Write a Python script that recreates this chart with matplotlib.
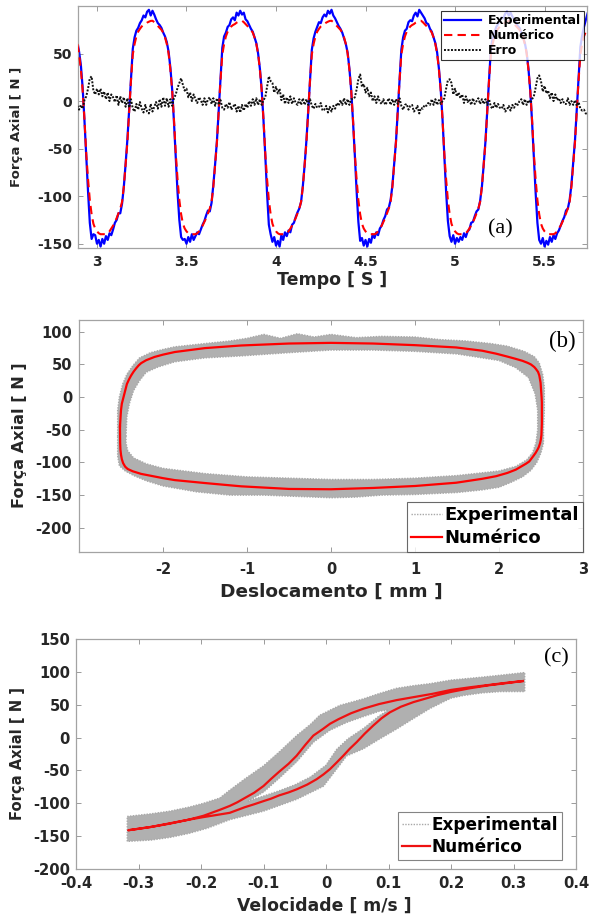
import numpy as np
import matplotlib
matplotlib.use("Agg")
import matplotlib.pyplot as plt

plt.rcParams["font.family"] = ["DejaVu Sans"]
plt.rcParams["font.weight"] = "bold"
plt.rcParams["axes.labelweight"] = "bold"
plt.rcParams["axes.unicode_minus"] = False

# ---------------- Panel (a): time series (sampled every 0.01 s from 2.89 s) ----------------
t_inicio = 2.89
t_passo = 0.01

numerico_a = [
    60, 50, 33, 11,
    -19, -55, -82, -104, -119, -129, -134, -137, -139, -140, -140, -140, -140, -139, -137, -134, -131, -127, -123, -118,
    -113, -106, -90, -67, -43, -10, 22, 49, 60, 68, 73, 76, 78.5, 80, 81, 82.5, 83.5, 84.3, 84.5, 83, 81, 79, 77, 75, 72, 67, 60, 50, 33, 11,
    -19, -55, -82, -104, -119, -129, -134, -137, -139, -140, -140, -140, -140, -139, -137, -134, -131, -127, -123, -118,
    -113, -106, -90, -67, -43, -10, 22, 49, 60, 68, 73, 76, 78.5, 80, 81, 82.5, 83.5, 84.3, 84.5, 83, 81, 79, 77, 75, 72, 67, 60, 50, 33, 11,
    -19, -55, -82, -104, -119, -129, -134, -137, -139, -140, -140, -140, -140, -139, -137, -134, -131, -127, -123, -118,
    -113, -106, -90, -67, -43, -10, 22, 49, 60, 68, 73, 76, 78.5, 80, 81, 82.5, 83.5, 84.3, 84.5, 83, 81, 79, 77, 75, 72, 67, 60, 50, 33, 11,
    -19, -55, -82, -104, -119, -129, -134, -137, -139, -140, -140, -140, -140, -139, -137, -134, -131, -127, -123, -118,
    -113, -106, -90, -67, -43, -10, 22, 49, 60, 68, 73, 76, 78.5, 80, 81, 82.5, 83.5, 84.3, 84.5, 83, 81, 79, 77, 75, 72, 67, 60, 50, 33, 11,
    -19, -55, -82, -104, -119, -129, -134, -137, -139, -140, -140, -140, -140, -139, -137, -134, -131, -127, -123, -118,
    -113, -106, -90, -67, -43, -10, 22, 49, 60, 68, 73, 76, 78.5, 80, 81, 82.5, 83.5, 84.3, 84.5, 83, 81, 79, 77, 75, 72, 67, 60, 50, 33, 11,
    -19, -55, -82, -104, -119, -129, -134, -137, -139, -140, -140, -140, -140, -139, -137, -134, -131, -127, -123, -118,
    -113, -106, -90, -67, -43, -10, 22, 49, 60, 68, 73, 76,
]

experimental_a = [
    63, 52, 38, 14,
    -20, -58, -95, -128, -145, -140, -141, -150, -146, -153, -145, -150, -142, -146, -139, -141, -135, -128, -125, -118,
    -118, -108, -90, -66, -40, -8, 25, 55, 67, 74, 77, 82, 85, 90, 88, 94, 96, 90, 95, 91, 86, 82, 80, 77, 72, 68, 62, 52, 35, 12,
    -22, -60, -96, -125, -143, -146, -145, -150, -143, -148, -140, -146, -142, -138, -140, -135, -130, -126, -120, -115,
    -116, -107, -88, -66, -42, -9, 24, 56, 68, 72, 78, 80, 86, 88, 85, 93, 90, 95, 91, 93, 86, 84, 80, 76, 73, 67, 61, 50, 34, 12,
    -20, -57, -97, -130, -140, -148, -143, -152, -147, -153, -141, -146, -138, -142, -136, -138, -130, -128, -122, -117,
    -113, -106, -89, -67, -41, -10, 23, 54, 66, 73, 78, 83, 82, 88, 91, 89, 95, 92, 96, 90, 87, 83, 79, 76, 72, 66, 60, 51, 34, 11,
    -21, -56, -94, -127, -147, -144, -152, -146, -153, -145, -149, -140, -144, -138, -141, -134, -131, -125, -121, -114,
    -112, -104, -89, -66, -43, -11, 22, 54, 67, 74, 76, 83, 85, 84, 90, 93, 89, 96, 93, 90, 87, 82, 81, 76, 73, 67, 61, 51, 34, 12,
    -19, -56, -95, -126, -142, -148, -141, -150, -144, -148, -143, -146, -139, -143, -137, -135, -128, -127, -121, -116,
    -114, -105, -90, -67, -42, -10, 23, 55, 66, 72, 78, 81, 84, 88, 87, 92, 94, 90, 93, 89, 86, 83, 79, 77, 72, 67, 61, 51, 34, 11,
    -21, -58, -96, -128, -146, -150, -144, -153, -147, -151, -143, -148, -141, -145, -139, -136, -131, -126, -122, -115,
    -113, -104, -88, -65, -41, -8, 26, 57, 69, 78, 85, 92,
]

erro_a = [
    -5, -9, -4, -8,
    1, 5, 13, 24, 26, 11, 7, 13, 7, 13, 5, 10, 2, 9, 0, 7, 4, -1, 6, -4, 5, -2, 4, -6, 3,
    -7, 2, -8, -11, -3, -9, -1, -8, -12, -4, -11, -13, -3, -11, -6, -1, -8, 2, -6, 4, -5, 3, -6, 2, -5,
    3, 7, 14, 19, 24, 17, 11, 13, 4, 9, 0, 7, 2, -2, 4, 1, -4, 3, -4, 2, 4, -3, 3, -5, 3,
    -4, 1, -7, -9, -3, -7, -1, -9, -6, -3, -11, -5, -12, -4, -10, -3, -7, 0, -5, 2, -4, 3, -4, 2, -4,
    1, 4, 15, 26, 21, 19, 9, 15, 8, 13, 1, 7, -3, 4, -2, 5, -3, 3, -2, -4, 2, -4, 3, -4, 2,
    -4, 2, -5, -8, -3, -7, -6, -2, -10, -9, -5, -12, -6, -11, -5, -8, -2, -5, 1, -4, 3, -4, 2, -4, 2,
    2, 4, 12, 23, 28, 15, 18, 9, 14, 5, 9, 0, 5, -2, 5, -1, -3, 2, -4, -1, 3, -4, 2, -4, 2,
    -3, 3, -5, -9, -4, -3, -9, -5, -4, -11, -9, -5, -13, -7, -8, -4, -5, -2, -4, 2, -4, 2, -4, 1, -3,
    0, 3, 13, 22, 23, 19, 7, 13, 5, 9, 3, 7, -2, 5, -1, 2, -4, 3, -3, 0, 3, -3, 2, -3, 2,
    -4, 2, -6, -8, -2, -7, -3, -7, -8, -4, -11, -9, -5, -10, -4, -7, -2, -4, 0, 2, -4, 2, -4, 1, -2,
    2, 5, 14, 24, 27, 21, 10, 16, 8, 11, 3, 9, 0, 7, 1, 3, -2, 2, -3, -3, 3, -4, 0, -4, 1,
    -5, -1, -8, -10, -9, -13, -14,
]
tempo = t_inicio + t_passo * np.arange(len(numerico_a))

ticks_a_x = [3, 3.5, 4, 4.5, 5, 5.5]
ticks_a_x_lab = ["3", "3.5", "4", "4.5", "5", "5.5"]
ticks_a_y = [-150, -100, -50, 0, 50]

# ---------------- Panel (b): force vs displacement ----------------
desl_num = [-2.512, -2.505, -2.50, -2.49, -2.47, -2.45, -2.43, -2.405, -2.38, -2.35, -2.32, -2.29, -2.26, -2.20,
            -2.10, -2.00, -1.86, -1.50, -1.07, -0.50, 0.00, 0.50, 1.00, 1.49, 1.80, 1.965, 2.10, 2.20,
            2.28, 2.34, 2.38, 2.42, 2.44, 2.465, 2.48, 2.495, 2.50, 2.507, 2.51, 2.51, 2.505, 2.498,
            2.49, 2.475, 2.46, 2.435, 2.41, 2.36, 2.32, 2.28, 2.20, 2.10, 1.965, 1.80, 1.49, 1.00,
            0.50, 0.00, -0.50, -1.07, -1.50, -1.86, -2.00, -2.10, -2.26, -2.36, -2.42, -2.45, -2.475,
            -2.49, -2.50, -2.507, -2.51, -2.512]
forca_num_b = [-45, -30, -20, -10, 0, 10, 20, 27, 33, 39, 44, 48.5, 52, 56.5,
               61.5, 65, 69, 75, 79, 82, 83, 82, 79.5, 76, 71, 66.5, 62, 58.5,
               55.5, 52.5, 50, 46, 43, 38.5, 33, 22, 12.6, 0, -8, -40, -58, -65,
               -70, -76, -80, -85.5, -90, -98.5, -102, -105, -111, -116, -121, -125, -131, -136,
               -139, -141, -140.5, -136.5, -131.5, -127, -124, -121.5, -117.5, -113.5, -110, -106.5, -101,
               -95, -88, -80, -70, -45]

desl_exp_ext = [-2.54, -2.54, -2.52, -2.48, -2.43, -2.36, -2.28, -2.15, -2.00, -1.86, -1.50, -1.20, -1.00,
                -0.80, -0.60, -0.40, -0.20, 0.00, 0.30, 0.60, 1.00, 1.30, 1.60, 1.90, 2.10, 2.30, 2.42,
                2.48, 2.52, 2.54, 2.54, 2.53, 2.53, 2.50, 2.45, 2.38, 2.28, 2.15, 2.00, 1.80, 1.50,
                1.00, 0.60, 0.30, 0.00, -0.40, -0.80, -1.20, -1.60, -2.00, -2.20, -2.35, -2.45, -2.52,
                -2.54, -2.54]
forca_exp_ext_b = [-60, -20, 0, 20, 35, 48, 60, 68, 73, 77, 82, 86, 90,
                   96, 90, 97, 92, 96, 91, 93, 92, 88, 86, 82, 78, 70, 62,
                   52, 35, 15, -20, -50, -70, -85, -100, -112, -122, -130, -138, -142, -146,
                   -149, -150, -153, -154, -152, -150, -150, -145, -136, -128, -120, -113, -105,
                   -90, -60]
desl_exp_int = [-2.44, -2.43, -2.40, -2.35, -2.28, -2.20, -2.06, -1.86, -1.50, -1.07, -0.50, 0.00, 0.50,
                1.00, 1.50, 2.00, 2.20, 2.35, 2.43, 2.46, 2.46, 2.44, 2.40, 2.33, 2.20, 2.00, 1.50,
                1.00, 0.50, 0.00, -0.50, -1.00, -1.50, -2.00, -2.20, -2.35, -2.42, -2.44]
forca_exp_int_b = [-60, -30, -10, 10, 25, 38, 46, 54, 60, 63, 68, 72, 72,
                   70, 66, 56, 45, 30, 5, -20, -50, -70, -85, -96, -106, -113, -120,
                   -124, -126, -126, -124, -122, -117, -109, -102, -93, -82, -70]

ticks_b_x = [-2, -1, 0, 1, 2, 3]
ticks_b_y = [-200, -150, -100, -50, 0, 50, 100]

# ---------------- Panel (c): force vs velocity ----------------
vel_num = [0.315, 0.29, 0.26, 0.23, 0.20, 0.17, 0.14, 0.113, 0.085, 0.06, 0.04, 0.02, 0.0064, -0.005,
           -0.0203, -0.033, -0.047, -0.06, -0.075, -0.088, -0.10, -0.115, -0.13, -0.142, -0.154, -0.17,
           -0.196, -0.22, -0.25, -0.28, -0.316,
           -0.28, -0.25, -0.22, -0.196, -0.17, -0.154, -0.13, -0.115, -0.10, -0.088, -0.075, -0.06,
           -0.047, -0.03, -0.015, -0.004, 0.0064, 0.017, 0.0277, 0.038, 0.049, 0.062, 0.0757, 0.089,
           0.1024, 0.12, 0.14, 0.16, 0.178, 0.20, 0.23, 0.26, 0.29, 0.315]
forca_num_c = [86, 83.5, 80, 76.5, 72.5, 66.5, 61.5, 57, 51, 44, 37, 28, 21, 13,
               3, -11, -27.6, -40, -52, -63, -73.7, -84, -92, -98.5, -104, -110,
               -119, -125, -131, -136, -141,
               -136, -130.5, -125, -121, -117, -114.5, -106, -101.5, -96.7, -93, -88, -83.5,
               -78.8, -71.5, -63.4, -56, -48, -38, -27.6, -17, -7, 6, 18.4, 29.5,
               38.5, 47, 54, 59.5, 64.5, 69.5, 75, 79.5, 83, 86]

vel_exp_ext = [-0.318, -0.28, -0.25, -0.22, -0.196, -0.17, -0.154, -0.13, -0.10, -0.075, -0.047, -0.025,
               -0.01, 0.022, 0.06, 0.085, 0.113, 0.14, 0.166, 0.20, 0.25, 0.28, 0.318,
               0.318, 0.28, 0.25, 0.22, 0.20, 0.187, 0.166, 0.14, 0.113, 0.086, 0.06, 0.033, 0.017,
               -0.004, -0.047, -0.10, -0.154, -0.19, -0.22, -0.25, -0.28, -0.318]
forca_exp_ext_c = [-120, -116, -112, -106, -100, -92, -80, -63, -43, -22, 3, 20,
                   34, 49, 59, 67, 75, 79, 82, 87.5, 92, 95, 99,
                   70, 70, 68, 64, 60, 54, 44, 29, 13, -2, -17, -28, -48,
                   -74, -94, -112, -125, -138, -146, -152, -156, -158]
vel_exp_int = [-0.125, -0.10, -0.075, -0.047, -0.02, 0.006, 0.033, 0.06, 0.085, 0.10,
               0.085, 0.06, 0.035, 0.017, 0.0, -0.025, -0.05, -0.075, -0.10]
forca_exp_int_c = [-97, -83, -62, -37, -7, 11, 23, 32, 40, 42,
                   33, 14, -2, -18, -42, -60, -72, -81, -89]

ticks_c_x = [-0.4, -0.3, -0.2, -0.1, 0.0, 0.1, 0.2, 0.3, 0.4]
ticks_c_x_lab = ["-0.4", "-0.3", "-0.2", "-0.1", "0", "0.1", "0.2", "0.3", "0.4"]
ticks_c_y = [-200, -150, -100, -50, 0, 50, 100, 150]

# ---------------- figure ----------------
W, H = 589, 919
fig = plt.figure(figsize=(W / 100, H / 100), dpi=100)
GRIS = "#b0b0b0"


def ax_px(l, t, r, b):
    return fig.add_axes([l / W, 1 - b / H, (r - l) / W, (b - t) / H])


def style(ax, fs, xpad, ypad):
    for s in ax.spines.values():
        s.set_color("#a3a3a3")
        s.set_linewidth(0.9)
    ax.tick_params(direction="in", length=3.5, width=0.7, color="#9a9a9a",
                   top=True, right=True, labelsize=fs, labelcolor="#262626")
    ax.tick_params(axis="x", pad=xpad)
    ax.tick_params(axis="y", pad=ypad)


def closed(seq):
    return list(seq) + [seq[0]]


axa = ax_px(78, 6, 587, 248)
axb = ax_px(79, 320, 583, 552)
axc = ax_px(76, 639, 576, 869)

# ---- (a)
axa.plot(tempo, experimental_a, color="#0000ff", lw=1.6, label="Experimental", zorder=2)
axa.plot(tempo, numerico_a, color="#ff0000", lw=1.5, ls=(0, (4, 2.5)), label="Numérico", zorder=3)
axa.plot(tempo, erro_a, color="#111111", lw=1.4, ls=(0, (1, 0.8)), label="Erro", zorder=4)
axa.set_xlim(2.894, 5.737)
axa.set_ylim(-154.5, 100)
axa.set_xticks(ticks_a_x, ticks_a_x_lab)
axa.set_yticks(ticks_a_y)
style(axa, 10, 5, 4.3)
axa.set_xlabel("Tempo [ S ]", fontsize=12.5, fontweight="bold", va="center", color="#262626")
axa.xaxis.set_label_coords(0.499, -0.132)
axa.set_ylabel("Força Axial [ N ]", fontsize=9.5, fontweight="bold", va="center", color="#262626")
axa.yaxis.set_label_coords(-0.12, 0.5)
leg = axa.legend(loc="upper right", bbox_to_anchor=(0.994, 0.979), fontsize=9, frameon=True,
                 fancybox=False, edgecolor="black", handlelength=3.0, labelspacing=0.15,
                 borderpad=0.25, handletextpad=0.5, borderaxespad=0)
leg.get_frame().set_linewidth(0.8)
axa.text(0.829, 0.0785, "(a)", transform=axa.transAxes, family="Liberation Serif",
         fontsize=16, fontweight="normal", ha="center", va="center", color="black")

# ---- (b)
axb.fill(desl_exp_ext, forca_exp_ext_b, color=GRIS, lw=0, zorder=1)
axb.fill(desl_exp_int, forca_exp_int_b, color="white", lw=0, zorder=1.5)
axb.plot(closed(desl_exp_ext), closed(forca_exp_ext_b), color="#a8a8a8", lw=1.0,
         ls=(0, (1, 1)), label="Experimental", zorder=1.6)
axb.plot(closed(desl_exp_int), closed(forca_exp_int_b), color="#a8a8a8", lw=1.0,
         ls=(0, (1, 1)), zorder=1.6)
axb.plot(desl_num, forca_num_b, color="#ff0000", lw=1.6, label="Numérico", zorder=3)
axb.set_xlim(-3.0, 3.0)
axb.set_ylim(-237, 118)
axb.set_xticks(ticks_b_x)
axb.set_yticks(ticks_b_y)
style(axb, 10.5, 7.2, 5)
axb.set_xlabel("Deslocamento [ mm ]", fontsize=13.3, fontweight="bold", va="center", color="#262626")
axb.xaxis.set_label_coords(0.501, -0.172)
axb.set_ylabel("Força Axial [ N ]", fontsize=11.6, fontweight="bold", va="center", color="#262626")
axb.yaxis.set_label_coords(-0.119, 0.502)
leg = axb.legend(loc="lower right", bbox_to_anchor=(1.0, 0.0), fontsize=13, frameon=True,
                 fancybox=False, edgecolor="#444444", handlelength=1.7, labelspacing=0.3,
                 borderpad=0.25, handletextpad=0.1, borderaxespad=0)
leg.get_frame().set_linewidth(0.8)
axb.text(0.958, 0.909, "(b)", transform=axb.transAxes, family="Liberation Serif",
         fontsize=16.5, fontweight="normal", ha="center", va="center", color="black")

# ---- (c)
axc.fill(vel_exp_ext, forca_exp_ext_c, color=GRIS, lw=0, zorder=1)
axc.fill(vel_exp_int, forca_exp_int_c, color="white", lw=0, zorder=1.5)
axc.plot(closed(vel_exp_ext), closed(forca_exp_ext_c), color="#a8a8a8", lw=1.0,
         ls=(0, (1, 1)), label="Experimental", zorder=1.6)
axc.plot(closed(vel_exp_int), closed(forca_exp_int_c), color="#a8a8a8", lw=1.0,
         ls=(0, (1, 1)), zorder=1.6)
axc.plot(vel_num, forca_num_c, color="#ee1111", lw=1.6, label="Numérico", zorder=3)
axc.set_xlim(-0.4, 0.4)
axc.set_ylim(-200, 150)
axc.set_xticks(ticks_c_x, ticks_c_x_lab)
axc.set_yticks(ticks_c_y)
style(axc, 10.6, 5, 4.3)
axc.set_xlabel("Velocidade [ m/s ]", fontsize=12.4, fontweight="bold", va="center", color="#262626")
axc.xaxis.set_label_coords(0.497, -0.161)
axc.set_ylabel("Força Axial [ N ]", fontsize=10.6, fontweight="bold", va="center", color="#262626")
axc.yaxis.set_label_coords(-0.116, 0.5)
leg = axc.legend(loc="lower right", bbox_to_anchor=(0.972, 0.039), fontsize=12.2, frameon=True,
                 fancybox=False, edgecolor="#666666", handlelength=1.6, labelspacing=0.2,
                 borderpad=0.25, handletextpad=0.1, borderaxespad=0)
leg.get_frame().set_linewidth(0.8)
axc.text(0.96, 0.917, "(c)", transform=axc.transAxes, family="Liberation Serif",
         fontsize=16, fontweight="normal", ha="center", va="center", color="black")

fig.savefig("out.png", dpi=100)
